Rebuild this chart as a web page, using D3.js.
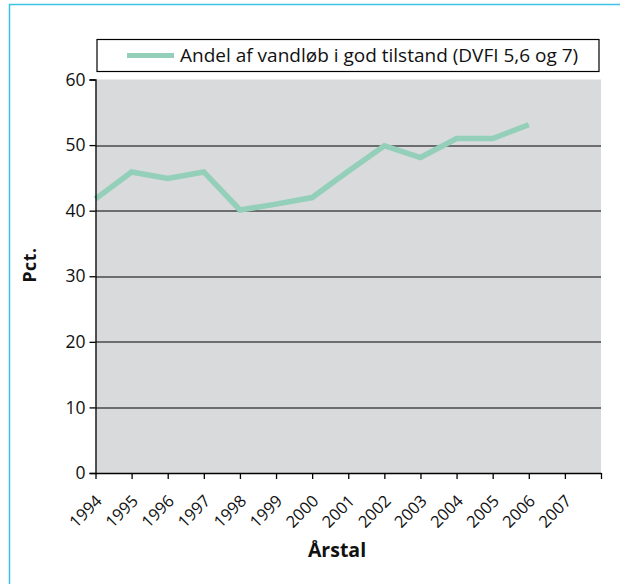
<!DOCTYPE html>
<html>
<head>
<meta charset="utf-8">
<script src="https://cdn.jsdelivr.net/npm/d3@7"></script>
<style>
  html, body { margin: 0; padding: 0; background: #fff; }
  svg { display: block; font-family: "Open Sans", sans-serif; }
</style>
</head>
<body>
<div id="chart"></div>
<script>
// data
const years = [1994, 1995, 1996, 1997, 1998, 1999, 2000, 2001, 2002, 2003, 2004, 2005, 2006];
const share = [41.8, 45.9, 44.9, 45.9, 40.1, 41.0, 42.0, 46.0, 49.9, 48.1, 51.0, 51.0, 53.1];
const yearLabels = ["1994", "1995", "1996", "1997", "1998", "1999", "2000", "2001", "2002", "2003", "2004", "2005", "2006", "2007"];
const yTicks = [0, 10, 20, 30, 40, 50, 60];
const seriesName = "Andel af vandløb i god tilstand (DVFI 5,6 og 7)";

const width = 620, height = 584;
const margin = { top: 79.5, right: 19, bottom: 111, left: 95.5 };
const innerWidth = width - margin.left - margin.right;
const innerHeight = height - margin.top - margin.bottom;
const lineColor = "#93cfb9";

const svg = d3.select("#chart")
  .append("svg")
    .attr("width", width)
    .attr("height", height);

// outer frame: only top and left edges show
svg.append("path")
  .attr("d", `M9.5,${height} V4.5 H${width}`)
  .attr("fill", "none")
  .attr("stroke", "#3fc1e5")
  .attr("stroke-width", 1.5);

const innerChart = svg.append("g")
  .attr("transform", `translate(${margin.left}, ${margin.top})`);

const xScale = d3.scaleLinear()
  .domain([1994, 2008])
  .range([0, innerWidth]);

const yScale = d3.scaleLinear()
  .domain([0, 60])
  .range([innerHeight, 0]);

// plot background
innerChart.append("rect")
  .attr("width", innerWidth)
  .attr("height", innerHeight)
  .attr("fill", "#d9dadc");

// gridlines
innerChart.selectAll(".grid")
  .data(yTicks.filter(t => t > 0 && t < 60))
  .join("line")
    .attr("class", "grid")
    .attr("x1", 0)
    .attr("x2", innerWidth)
    .attr("y1", d => Math.round(yScale(d)) + 0.5)
    .attr("y2", d => Math.round(yScale(d)) + 0.5)
    .attr("stroke", "#000")
    .attr("stroke-width", 1);

// line
const lineGen = d3.line()
  .x((d, i) => xScale(years[i]))
  .y(d => yScale(d));

innerChart.append("path")
  .datum(share)
  .attr("d", lineGen)
  .attr("fill", "none")
  .attr("stroke", lineColor)
  .attr("stroke-width", 5.5);

// axes
const leftAxis = d3.axisLeft(yScale)
  .tickValues(yTicks)
  .tickSize(6)
  .tickPadding(4);

const yAxisG = innerChart.append("g").call(leftAxis);
yAxisG.selectAll("text")
  .attr("font-size", 17.5)
  .attr("font-family", "'Open Sans', sans-serif")
  .attr("fill", "#111");

const tickYears = yearLabels.map(Number).concat([2008]);
const bottomAxis = d3.axisBottom(xScale)
  .tickValues(tickYears)
  .tickFormat(d => yearLabels.includes(String(d)) ? String(d) : "")
  .tickSize(6)
  .tickSizeOuter(0);

const xAxisG = innerChart.append("g")
  .attr("transform", `translate(0, ${innerHeight})`)
  .call(bottomAxis);
xAxisG.selectAll("text")
  .attr("font-size", 16.5)
  .attr("font-family", "'Open Sans', sans-serif")
  .attr("fill", "#111")
  .attr("text-anchor", "end")
  .attr("dy", 0)
  .attr("y", 0)
  .attr("transform", "translate(7, 29) rotate(-45)");

[yAxisG, xAxisG].forEach(g => {
  g.selectAll("path, line").attr("stroke", "#000").attr("stroke-width", 1.3);
});

// axis titles
svg.append("text")
  .attr("transform", `translate(36, 265) rotate(-90)`)
  .attr("text-anchor", "middle")
  .attr("font-size", 17.5)
  .attr("letter-spacing", 0.6)
  .attr("font-weight", "bold")
  .attr("fill", "#111")
  .text("Pct.");

svg.append("text")
  .attr("x", 337)
  .attr("y", 557)
  .attr("text-anchor", "middle")
  .attr("font-size", 19.5)
  .attr("font-weight", "bold")
  .attr("fill", "#111")
  .text("Årstal");

// legend
const legend = svg.append("g");
legend.append("rect")
  .attr("x", 97)
  .attr("y", 39.5)
  .attr("width", 502)
  .attr("height", 32)
  .attr("fill", "#fff")
  .attr("stroke", "#000")
  .attr("stroke-width", 1.2);
legend.append("line")
  .attr("x1", 127)
  .attr("x2", 174)
  .attr("y1", 55.5)
  .attr("y2", 55.5)
  .attr("stroke", lineColor)
  .attr("stroke-width", 5);
legend.append("text")
  .attr("x", 180)
  .attr("y", 62)
  .attr("font-size", 19)
  .attr("fill", "#111")
  .text(seriesName);
</script>
</body>
</html>
